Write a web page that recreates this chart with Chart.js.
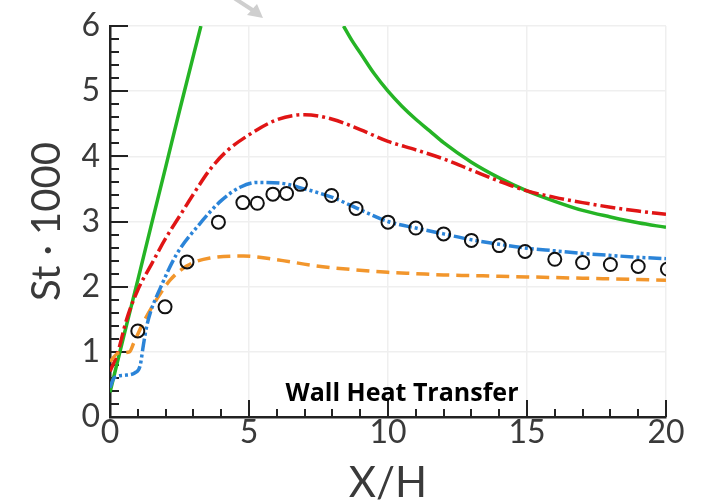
<!DOCTYPE html>
<html>
<head>
<meta charset="utf-8">
<script src="https://cdn.jsdelivr.net/npm/chart.js@4"></script>
<style>
  body { margin: 0; background: #fff; }
  #wrap { width: 705px; height: 501px; }
</style>
</head>
<body>
<div id="wrap"><canvas id="myChart" width="705" height="501"></canvas></div>
<script>
// experiment (circles)
const expX = [1.0, 1.98, 2.77, 3.9, 4.78, 5.3, 5.86, 6.35, 6.85, 7.97, 8.85, 10.0, 11.0, 12.0, 13.0, 14.0, 14.93, 16.0, 17.0, 18.0, 19.0, 20.05];
const expY = [1.32, 1.69, 2.38, 2.99, 3.29, 3.28, 3.42, 3.43, 3.57, 3.40, 3.20, 2.99, 2.90, 2.81, 2.71, 2.63, 2.54, 2.42, 2.37, 2.34, 2.31, 2.27];

// green solid (null = leaves the plot above 6)
const greenX = [0, 0.5, 1, 1.5, 2, 2.5, 3.27, 5.8, 8.4, 8.7, 9, 9.5, 10, 10.5, 11, 11.5, 12, 13, 14, 15, 16, 17, 18, 19, 20];
const greenY = [0.38, 1.25, 2.1, 2.97, 3.83, 4.7, 6, null, 6, 5.78, 5.59, 5.27, 5.0, 4.77, 4.57, 4.39, 4.21, 3.91, 3.67, 3.47, 3.31, 3.17, 3.07, 2.98, 2.91];

// red dash-dot
const redX = [0, 0.25, 0.6, 1.0, 1.5, 2.0, 2.5, 3.0, 3.6, 4.2, 5.0, 6.0, 7.0, 8.0, 9.0, 10.0, 11.0, 12.0, 13.0, 14.0, 15.0, 16.0, 17.0, 18.0, 19.0, 20.0];
const redY = [0.7, 0.95, 1.5, 1.95, 2.35, 2.74, 3.08, 3.42, 3.8, 4.08, 4.33, 4.56, 4.64, 4.57, 4.41, 4.23, 4.1, 3.96, 3.79, 3.62, 3.47, 3.37, 3.29, 3.22, 3.16, 3.11];

// blue dash-dot-dot
const blueX = [0, 0.15, 0.5, 0.9, 1.08, 1.2, 1.3, 1.45, 1.8, 2.4, 3.2, 4.0, 4.7, 5.3, 6.1, 7.0, 8.0, 9.0, 10.0, 11.0, 12.0, 13.0, 14.0, 15.0, 16.0, 17.0, 18.0, 19.0, 20.0];
const blueY = [0.45, 0.6, 0.64, 0.68, 0.78, 1.1, 1.35, 1.6, 1.97, 2.5, 2.95, 3.32, 3.53, 3.6, 3.59, 3.5, 3.37, 3.18, 3.0, 2.9, 2.81, 2.72, 2.65, 2.59, 2.55, 2.51, 2.48, 2.45, 2.43];

// orange dashed
const orangeX = [0, 0.3, 0.7, 0.85, 1.2, 1.7, 2.16, 2.77, 3.6, 4.8, 5.9, 7.4, 8.5, 10, 11, 12, 13, 14, 15, 16, 17, 18, 19, 20];
const orangeY = [0.85, 0.98, 1.0, 1.13, 1.45, 1.82, 2.1, 2.32, 2.44, 2.47, 2.42, 2.32, 2.27, 2.22, 2.2, 2.18, 2.17, 2.16, 2.15, 2.14, 2.13, 2.12, 2.11, 2.1];

const xTicks = [0, 5, 10, 15, 20];
const yTicks = [0, 1, 2, 3, 4, 5, 6];
const note = "Wall Heat Transfer";

const pts = (xs, ys) => xs.map((x, i) => ({ x: x, y: ys[i] }));

const lineSet = (xs, ys, color, dash, order) => ({
    data: pts(xs, ys),
    showLine: true,
    borderColor: color,
    borderWidth: 3.5,
    borderDash: dash,
    pointRadius: 0,
    cubicInterpolationMode: 'monotone',
    spanGaps: false,
    clip: 0,
    order: order
});

const axisFont = "Lato, 'Liberation Sans', sans-serif";

// inward tick marks like the original plot
const innerTicks = {
    id: 'innerTicks',
    beforeDatasetsDraw(chart) {
        const ctx = chart.ctx;
        const xs = chart.scales.x, ys = chart.scales.y;
        const a = chart.chartArea;
        ctx.save();
        ctx.strokeStyle = '#222';
        ctx.lineWidth = 2;
        ctx.beginPath();
        for (let v = 0; v <= 20.001; v += 1) {
            const len = (Math.round(v) % 5 === 0) ? 17 : 8;
            const px = Math.round(xs.getPixelForValue(v));
            ctx.moveTo(px, a.bottom);
            ctx.lineTo(px, a.bottom - len);
        }
        for (let i = 0; i <= 30; i++) {
            const v = i / 5;
            const len = (i % 5 === 0) ? 18 : 9;
            const py = Math.round(ys.getPixelForValue(v));
            ctx.moveTo(a.left, py);
            ctx.lineTo(a.left + len, py);
        }
        ctx.stroke();
        ctx.restore();
    },
    afterDraw(chart) {
        const ctx = chart.ctx;
        ctx.save();
        // note text
        ctx.fillStyle = '#000';
        ctx.font = "bold 25px 'Open Sans', sans-serif";
        ctx.textAlign = 'center';
        ctx.textBaseline = 'alphabetic';
        ctx.fillText(note, 402, 401);
        // faint arrow at the top
        ctx.strokeStyle = '#cfcfcf';
        ctx.fillStyle = '#cfcfcf';
        ctx.lineWidth = 4;
        ctx.beginPath();
        ctx.moveTo(234, -2);
        ctx.lineTo(254, 11);
        ctx.stroke();
        ctx.beginPath();
        ctx.moveTo(263, 18);
        ctx.lineTo(247, 15);
        ctx.lineTo(257, 4);
        ctx.closePath();
        ctx.fill();
        ctx.restore();
    }
};

const ctx = document.getElementById('myChart');

new Chart(ctx, {
    type: 'scatter',
    data: {
        datasets: [
            {
                data: pts(expX, expY),
                pointStyle: 'circle',
                pointRadius: 6.5,
                pointBorderWidth: 2,
                pointBorderColor: '#111',
                pointBackgroundColor: 'rgba(0,0,0,0)',
                showLine: false,
                clip: 0,
                order: 0
            },
            lineSet(blueX, blueY, '#2b84d8', [13, 3, 3, 3, 3, 3], 1),
            lineSet(orangeX, orangeY, '#f2962c', [13, 7], 2),
            lineSet(redX, redY, '#e01515', [15, 4, 3, 4], 3),
            lineSet(greenX, greenY, '#25b425', [], 4)
        ]
    },
    plugins: [innerTicks],
    options: {
        responsive: false,
        animation: false,
        layout: { padding: { top: 24, right: 39, left: 0, bottom: 0 } },
        plugins: {
            legend: { display: false },
            tooltip: { enabled: false }
        },
        scales: {
            x: {
                type: 'linear',
                min: 0,
                max: 20,
                afterFit: (scale) => { scale.height = 84; },
                afterBuildTicks: (scale) => { scale.ticks = xTicks.map(v => ({ value: v })); },
                grid: { color: '#efefef', lineWidth: 1.5, drawTicks: false },
                border: { display: true, color: '#222', width: 2.5 },
                ticks: {
                    padding: 0,
                    color: '#3a3a3a',
                    font: { family: axisFont, size: 32, lineHeight: 1 }
                },
                title: {
                    display: true,
                    text: 'X/H',
                    color: '#3a3a3a',
                    padding: { top: 0, bottom: -3 },
                    font: { family: axisFont, size: 42, lineHeight: 1 }
                }
            },
            y: {
                type: 'linear',
                min: 0,
                max: 6,
                afterFit: (scale) => { scale.width = 110; },
                afterBuildTicks: (scale) => { scale.ticks = yTicks.map(v => ({ value: v })); },
                grid: { color: '#efefef', lineWidth: 1.5, drawTicks: false },
                border: { display: true, color: '#222', width: 2.5 },
                ticks: {
                    padding: 10,
                    color: '#3a3a3a',
                    font: { family: axisFont, size: 32, lineHeight: 1 }
                },
                title: {
                    display: true,
                    text: 'St · 1000',
                    color: '#3a3a3a',
                    padding: { top: 27, bottom: 0 },
                    font: { family: axisFont, size: 40, lineHeight: 1 }
                }
            }
        }
    }
});
</script>
</body>
</html>
